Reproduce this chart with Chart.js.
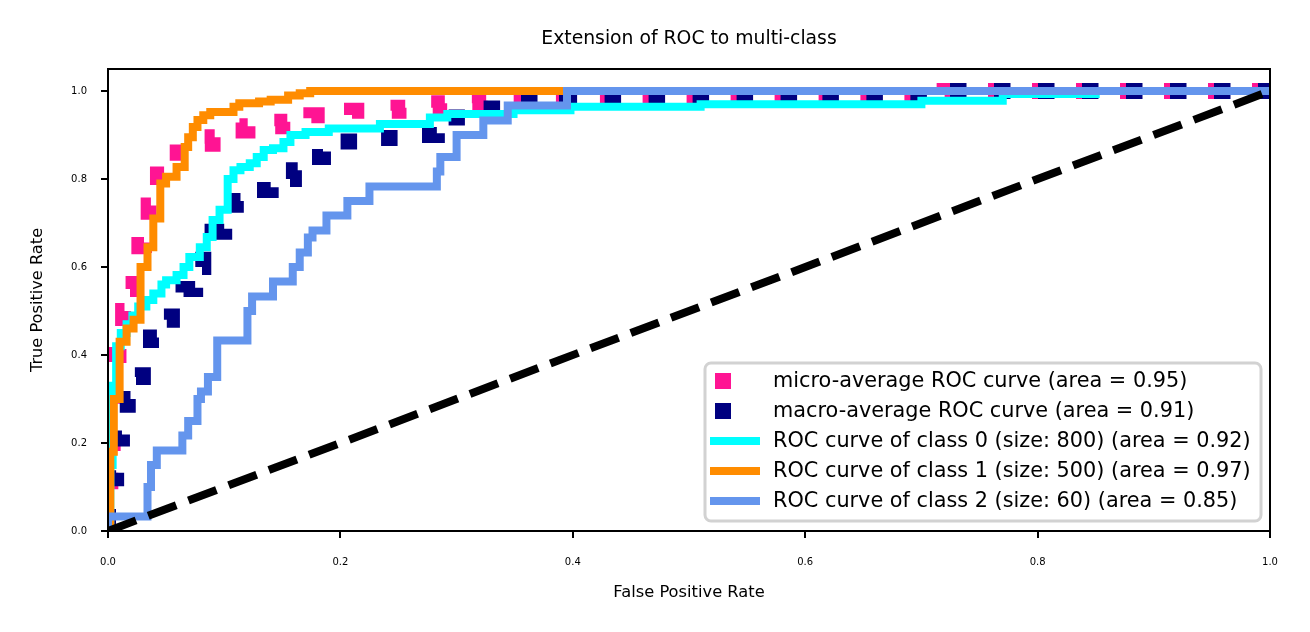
<!DOCTYPE html>
<html>
<head>
<meta charset="utf-8">
<script src="https://cdn.jsdelivr.net/npm/chart.js@4.4.0/dist/chart.umd.min.js"></script>
<style>
html,body{margin:0;padding:0;background:#fff;}
#wrap{width:1310px;height:632px;}
</style>
</head>
<body>
<div id="wrap"><canvas id="c" width="1310" height="632"></canvas></div>
<script>
// ---- data ----
const chartTitle = 'Extension of ROC to multi-class';
const xLabel = 'False Positive Rate';
const yLabel = 'True Positive Rate';
const xTicks = [0, 0.2, 0.4, 0.6, 0.8, 1.0];
const yTicks = [0, 0.2, 0.4, 0.6, 0.8, 1.0];

const seriesLabels = [
  'micro-average ROC curve (area = 0.95)',
  'macro-average ROC curve (area = 0.91)',
  'ROC curve of class 0 (size: 800) (area = 0.92)',
  'ROC curve of class 1 (size: 500) (area = 0.97)',
  'ROC curve of class 2 (size: 60) (area = 0.85)'
];

const microFpr = [0,0,0.002,0.002,0.004,0.004,0.006,0.006,0.009,0.009,0.013,0.013,0.017,0.017,0.022,0.022,0.027,0.027,0.031,0.031,0.035,0.035,0.039,0.039,0.043,0.043,0.05,0.05,0.06,0.06,0.075,0.075,0.09,0.09,0.105,0.105,0.12,0.12,0.15,0.15,0.175,0.175,0.21,0.21,0.25,0.25,0.285,0.285,0.32,0.32,0.36,0.36,0.45,0.45,0.62,0.62,0.72,0.72,1];
const microTpr = [0,0.05,0.05,0.2,0.2,0.32,0.32,0.4,0.4,0.46,0.46,0.5,0.5,0.55,0.55,0.6,0.6,0.65,0.65,0.7,0.7,0.74,0.74,0.78,0.78,0.81,0.81,0.84,0.84,0.86,0.86,0.88,0.88,0.895,0.895,0.91,0.91,0.92,0.92,0.93,0.93,0.945,0.945,0.955,0.955,0.962,0.962,0.972,0.972,0.978,0.978,0.982,0.982,0.985,0.985,0.99,0.99,1.0,1.0];

const macroFpr = [0,0,0.003,0.003,0.007,0.007,0.012,0.012,0.017,0.017,0.024,0.024,0.03,0.03,0.037,0.037,0.045,0.045,0.055,0.055,0.065,0.065,0.075,0.075,0.082,0.082,0.09,0.09,0.1,0.1,0.11,0.11,0.12,0.12,0.14,0.14,0.16,0.16,0.17,0.17,0.185,0.185,0.2,0.2,0.22,0.22,0.26,0.26,0.283,0.283,0.3,0.3,0.323,0.323,0.344,0.344,0.395,0.395,0.6,0.6,0.72,0.72,1];
const macroTpr = [0,0.05,0.05,0.12,0.12,0.21,0.21,0.26,0.26,0.3,0.3,0.35,0.35,0.39,0.39,0.44,0.44,0.48,0.48,0.52,0.52,0.55,0.55,0.6,0.6,0.64,0.64,0.68,0.68,0.71,0.71,0.75,0.75,0.775,0.775,0.8,0.8,0.82,0.82,0.85,0.85,0.87,0.87,0.885,0.885,0.893,0.893,0.9,0.9,0.915,0.915,0.94,0.94,0.96,0.96,0.975,0.975,0.985,0.985,0.99,0.99,1.0,1.0];

const class0Fpr = [0,0.002,0.002,0.004,0.004,0.007,0.007,0.011,0.011,0.016,0.016,0.021,0.021,0.026,0.026,0.033,0.033,0.039,0.039,0.046,0.046,0.05,0.05,0.059,0.059,0.065,0.065,0.07,0.07,0.079,0.079,0.085,0.085,0.09,0.09,0.096,0.096,0.103,0.103,0.108,0.108,0.114,0.114,0.122,0.122,0.128,0.128,0.134,0.134,0.142,0.142,0.151,0.151,0.157,0.157,0.17,0.17,0.19,0.19,0.234,0.234,0.277,0.277,0.292,0.292,0.349,0.349,0.398,0.398,0.51,0.51,0.7,0.7,0.77,0.77,0.85,0.85,1];
const class0Tpr = [0,0,0.15,0.15,0.33,0.33,0.42,0.42,0.45,0.45,0.47,0.47,0.49,0.49,0.51,0.51,0.525,0.525,0.54,0.54,0.56,0.56,0.57,0.57,0.582,0.582,0.6,0.6,0.623,0.623,0.645,0.645,0.668,0.668,0.707,0.707,0.73,0.73,0.8,0.8,0.82,0.82,0.827,0.827,0.836,0.836,0.85,0.85,0.866,0.866,0.87,0.87,0.884,0.884,0.9,0.9,0.907,0.907,0.915,0.915,0.925,0.925,0.94,0.94,0.948,0.948,0.956,0.956,0.964,0.964,0.97,0.97,0.978,0.978,0.993,0.993,1.0,1.0];

const class1Fpr = [0,0.002,0.002,0.005,0.005,0.01,0.01,0.016,0.016,0.022,0.022,0.028,0.028,0.034,0.034,0.039,0.039,0.045,0.045,0.05,0.05,0.059,0.059,0.066,0.066,0.069,0.069,0.073,0.073,0.077,0.077,0.082,0.082,0.088,0.088,0.108,0.108,0.113,0.113,0.13,0.13,0.14,0.14,0.155,0.155,0.165,0.165,0.174,0.174,1];
const class1Tpr = [0,0,0.18,0.18,0.3,0.3,0.43,0.43,0.46,0.46,0.48,0.48,0.6,0.6,0.645,0.645,0.71,0.71,0.79,0.79,0.805,0.805,0.827,0.827,0.873,0.873,0.895,0.895,0.918,0.918,0.934,0.934,0.945,0.945,0.952,0.952,0.964,0.964,0.972,0.972,0.976,0.976,0.98,0.98,0.99,0.99,0.995,0.995,1.0,1.0];

const class2Fpr = [0,0,0.034,0.034,0.037,0.037,0.042,0.042,0.064,0.064,0.069,0.069,0.077,0.077,0.080,0.080,0.086,0.086,0.094,0.094,0.120,0.120,0.124,0.124,0.142,0.142,0.159,0.159,0.165,0.165,0.172,0.172,0.176,0.176,0.188,0.188,0.206,0.206,0.225,0.225,0.283,0.283,0.286,0.286,0.300,0.300,0.323,0.323,0.344,0.344,0.395,0.395,1];
const class2Tpr = [0,0.033,0.033,0.1,0.1,0.15,0.15,0.183,0.183,0.217,0.217,0.25,0.25,0.3,0.3,0.317,0.317,0.35,0.35,0.433,0.433,0.5,0.5,0.533,0.533,0.567,0.567,0.6,0.6,0.633,0.633,0.667,0.667,0.683,0.683,0.717,0.717,0.75,0.75,0.783,0.783,0.817,0.817,0.85,0.85,0.9,0.9,0.933,0.933,0.967,0.967,1.0,1.0];

const chanceFpr = [0, 1];
const chanceTpr = [0, 1];

const seriesColors = ['#FF1493', '#000080', '#00FFFF', '#FF8C00', '#6495ED'];

// ---- build ----
const FONT = "'DejaVu Sans', 'Liberation Sans', sans-serif";
function pts(xs, ys) { return xs.map((x, i) => ({x: x, y: ys[i]})); }

const dotted = {borderWidth: 16, borderDash: [16.5, 27.5]};
const datasets = [
  Object.assign({label: seriesLabels[0], data: pts(microFpr, microTpr), borderColor: seriesColors[0], order: 6}, dotted),
  Object.assign({label: seriesLabels[1], data: pts(macroFpr, macroTpr), borderColor: seriesColors[1], order: 5, borderDashOffset: -6}, dotted),
  {label: seriesLabels[2], data: pts(class0Fpr, class0Tpr), borderColor: seriesColors[2], borderWidth: 8, order: 4},
  {label: seriesLabels[3], data: pts(class1Fpr, class1Tpr), borderColor: seriesColors[3], borderWidth: 8, order: 3},
  {label: seriesLabels[4], data: pts(class2Fpr, class2Tpr), borderColor: seriesColors[4], borderWidth: 8, order: 2},
  {label: 'chance', data: pts(chanceFpr, chanceTpr), borderColor: '#000000', borderWidth: 8, borderDash: [30, 13], order: 1}
].map(d => Object.assign({showLine: true, pointRadius: 0, pointHoverRadius: 0, fill: false, tension: 0, clip: 0, borderCapStyle: 'butt', borderJoinStyle: 'miter'}, d));

const framePlugin = {
  id: 'frame',
  afterDatasetsDraw(chart) {
    const {ctx, chartArea: a} = chart;
    ctx.save();
    ctx.strokeStyle = '#000';
    ctx.lineWidth = 2;
    ctx.strokeRect(a.left, a.top, a.right - a.left, a.bottom - a.top);
    ctx.font = '18.8px ' + FONT;
    ctx.fillStyle = '#000';
    ctx.textAlign = 'center';
    ctx.textBaseline = 'middle';
    ctx.fillText(chartTitle, (a.left + a.right) / 2, 39);
    ctx.restore();
  }
};

const legendPlugin = {
  id: 'customLegend',
  afterDraw(chart) {
    const ctx = chart.ctx;
    const bx = 705, by = 363, bw = 556, bh = 158, r = 6;
    ctx.save();
    ctx.beginPath();
    ctx.moveTo(bx + r, by);
    ctx.arcTo(bx + bw, by, bx + bw, by + bh, r);
    ctx.arcTo(bx + bw, by + bh, bx, by + bh, r);
    ctx.arcTo(bx, by + bh, bx, by, r);
    ctx.arcTo(bx, by, bx + bw, by, r);
    ctx.closePath();
    ctx.fillStyle = 'rgba(255,255,255,0.8)';
    ctx.fill();
    ctx.strokeStyle = 'rgb(210,210,210)';
    ctx.lineWidth = 3;
    ctx.stroke();
    ctx.font = '20.8px ' + FONT;
    ctx.textBaseline = 'middle';
    ctx.textAlign = 'left';
    for (let i = 0; i < 5; i++) {
      const ds = chart.data.datasets[i];
      const y = 381 + i * 30;
      if (i < 2) {
        ctx.fillStyle = ds.borderColor;
        ctx.fillRect(715, y - 8, 16, 16);
      } else {
        ctx.strokeStyle = ds.borderColor;
        ctx.lineWidth = 8;
        ctx.beginPath();
        ctx.moveTo(710, y);
        ctx.lineTo(760, y);
        ctx.stroke();
      }
      ctx.fillStyle = '#000';
      ctx.fillText(ds.label, 773, y + 1);
    }
    ctx.restore();
  }
};

new Chart(document.getElementById('c'), {
  type: 'scatter',
  data: {datasets: datasets},
  options: {
    responsive: false,
    animation: false,
    devicePixelRatio: 1,
    layout: {padding: {left: 0, right: 40, top: 69, bottom: 0}},
    plugins: {
      legend: {display: false},
      tooltip: {enabled: false},
      title: {display: false}
    },
    scales: {
      x: {
        type: 'linear',
        min: 0, max: 1,
        afterFit(s) { s.height = 632 - 531; },
        afterBuildTicks(s) { s.ticks = xTicks.map(v => ({value: v})); },
        ticks: {color: '#000', font: {family: FONT, size: 10}, padding: 18, maxRotation: 0, autoSkip: false, callback: v => v.toFixed(1)},
        grid: {display: true, drawOnChartArea: false, drawTicks: true, tickLength: 7, color: '#000', lineWidth: 2},
        border: {display: false},
        title: {display: true, text: xLabel, color: '#000', font: {family: FONT, size: 16.3, lineHeight: 1.2}, padding: {top: 0, bottom: 29.4}}
      },
      y: {
        type: 'linear',
        min: 0, max: 1.05,
        afterFit(s) { s.width = 108; },
        afterBuildTicks(s) { s.ticks = yTicks.map(v => ({value: v})); },
        ticks: {color: '#000', font: {family: FONT, size: 10}, padding: 14, autoSkip: false, callback: v => v.toFixed(1)},
        grid: {display: true, drawOnChartArea: false, drawTicks: true, tickLength: 7, color: '#000', lineWidth: 2},
        border: {display: false},
        title: {display: true, text: yLabel, color: '#000', font: {family: FONT, size: 16.2, lineHeight: 1.2}, padding: {top: 28.4, bottom: 0}}
      }
    }
  },
  plugins: [framePlugin, legendPlugin]
});
</script>
</body>
</html>
